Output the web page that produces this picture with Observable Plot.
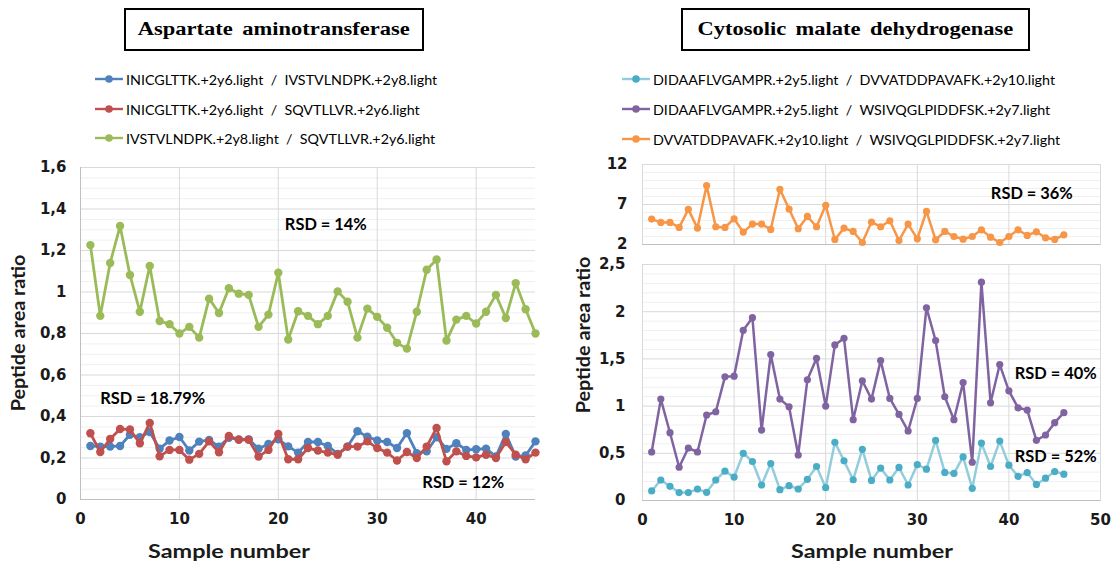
<!DOCTYPE html>
<html><head><meta charset="utf-8">
<script src="https://cdn.jsdelivr.net/npm/d3@7"></script>
<script src="https://cdn.jsdelivr.net/npm/@observablehq/plot@0.6"></script>
<style>
html,body{margin:0;padding:0;background:#fff}
body{width:1115px;height:563px;position:relative;overflow:hidden;font-family:Lato,"Open Sans",sans-serif}
.panel{position:absolute}
.title{position:absolute;border:2px solid #000;box-sizing:border-box;font-family:"Liberation Serif","Times New Roman",serif;font-weight:bold;font-size:18px;display:flex;align-items:center;justify-content:center;word-spacing:3px;color:#000}
.title span{display:inline-block;transform:scaleX(1.25);white-space:nowrap}
.leg{position:absolute;font-size:14.3px;color:#000;white-space:pre;display:flex;align-items:center;height:20px}
.leg svg{margin-right:3px}
.axt{position:absolute;font-weight:bold;font-size:18px;color:#1a1a1a;white-space:nowrap}
.rot{transform:translate(-50%,-50%) rotate(-90deg) scaleX(1.1)}
.hc{transform:translate(-50%,-50%) scaleX(1.3)}
</style>
</head><body>
<div class="title" style="left:124px;top:8px;width:300px;height:43px"><span>Aspartate aminotransferase</span></div>
<div class="title" style="left:681px;top:8px;width:349px;height:43px"><span>Cytosolic malate dehydrogenase</span></div>
<div id="legL"></div><div id="legR"></div>
<div id="pL" class="panel" style="left:0;top:150px"></div>
<div id="pRT" class="panel" style="left:560px;top:150px"></div>
<div id="pRB" class="panel" style="left:560px;top:255px"></div>
<div class="axt rot" style="left:18px;top:333px">Peptide area ratio</div>
<div class="axt rot" style="left:583px;top:335px">Peptide area ratio</div>
<div class="axt hc" style="left:229px;top:551px">Sample number</div>
<div class="axt hc" style="left:872px;top:551px">Sample number</div>
<script>
// ---- data ----
const samples = [1,2,3,4,5,6,7,8,9,10,11,12,13,14,15,16,17,18,19,20,21,22,23,24,25,26,27,28,29,30,31,32,33,34,35,36,37,38,39,40,41,42,43,44,45,46];

const astNames = [
  "INICGLTTK.+2y6.light  /  IVSTVLNDPK.+2y8.light",
  "INICGLTTK.+2y6.light  /  SQVTLLVR.+2y6.light",
  "IVSTVLNDPK.+2y8.light  /  SQVTLLVR.+2y6.light"
];
const astColors = ["#4F81BD", "#C0504D", "#9BBB59"];
const astBlue = [0.258,0.255,0.255,0.258,0.312,0.300,0.325,0.245,0.284,0.301,0.236,0.279,0.287,0.255,0.297,0.290,0.290,0.245,0.268,0.290,0.256,0.226,0.277,0.277,0.258,0.220,0.255,0.329,0.303,0.284,0.277,0.248,0.320,0.223,0.232,0.300,0.244,0.271,0.239,0.242,0.245,0.207,0.316,0.207,0.212,0.280];
const astRed = [0.319,0.229,0.292,0.340,0.337,0.271,0.369,0.208,0.239,0.239,0.192,0.220,0.280,0.228,0.306,0.288,0.288,0.207,0.239,0.316,0.194,0.194,0.248,0.236,0.226,0.216,0.255,0.255,0.280,0.248,0.226,0.188,0.229,0.200,0.255,0.345,0.184,0.232,0.210,0.203,0.216,0.200,0.277,0.216,0.194,0.226];
const astGreen = [1.226,0.885,1.140,1.318,1.082,0.905,1.125,0.860,0.845,0.800,0.832,0.780,0.968,0.899,1.018,0.992,0.986,0.832,0.891,1.093,0.771,0.907,0.885,0.845,0.885,1.003,0.953,0.780,0.920,0.880,0.828,0.755,0.727,0.905,1.107,1.157,0.766,0.867,0.885,0.848,0.905,0.986,0.875,1.043,0.917,0.800];

const mdhNames = [
  "DIDAAFLVGAMPR.+2y5.light  /  DVVATDDPAVAFK.+2y10.light",
  "DIDAAFLVGAMPR.+2y5.light  /  WSIVQGLPIDDFSK.+2y7.light",
  "DVVATDDPAVAFK.+2y10.light  /  WSIVQGLPIDDFSK.+2y7.light"
];
const mdhLineColors = ["#93CDDD", "#8064A2", "#F79646"];
const mdhDotColors = ["#4BACC6", "#8064A2", "#F79646"];
const mdhCyan = [0.101,0.217,0.150,0.084,0.084,0.122,0.087,0.217,0.311,0.248,0.500,0.413,0.164,0.392,0.115,0.157,0.122,0.224,0.360,0.136,0.617,0.420,0.220,0.542,0.213,0.343,0.217,0.350,0.164,0.381,0.332,0.636,0.297,0.287,0.462,0.129,0.608,0.360,0.629,0.374,0.256,0.296,0.170,0.236,0.307,0.279];
const mdhPurple = [0.514,1.074,0.718,0.352,0.556,0.514,0.905,0.940,1.310,1.317,1.803,1.937,0.746,1.546,1.074,0.993,0.482,1.278,1.507,1.000,1.648,1.718,0.856,1.268,1.074,1.482,1.081,0.912,0.736,1.081,2.042,1.694,1.099,0.856,1.250,0.405,2.313,1.035,1.440,1.162,0.982,0.958,0.637,0.694,0.824,0.930];
const mdhOrange = [5.18,4.76,4.76,4.13,6.39,4.05,9.36,4.22,4.13,5.22,3.55,4.55,4.55,3.88,8.90,6.44,3.97,5.51,4.22,6.90,2.63,4.05,3.63,2.25,4.80,4.22,4.97,2.50,4.55,2.71,6.14,2.59,3.63,3.00,2.67,3.00,3.84,2.92,2.25,3.00,3.84,3.13,3.59,2.84,2.63,3.21];

// tick values
const leftXTicks = [0,10,20,30,40];
const leftYTicks = [0,0.2,0.4,0.6,0.8,1,1.2,1.4,1.6];
const leftYMinor = [0.05,0.1,0.15,0.25,0.3,0.35,0.45,0.5,0.55,0.65,0.7,0.75,0.85,0.9,0.95,1.05,1.1,1.15,1.25,1.3,1.35,1.45,1.5,1.55];
const rightXTicks = [0,10,20,30,40,50];
const topYTicks = [2,7,12];
const topYMinor = [3,4,5,6,8,9,10,11];
const botYTicks = [0,0.5,1,1.5,2,2.5];
const botYMinor = [0.1,0.2,0.3,0.4,0.6,0.7,0.8,0.9,1.1,1.2,1.3,1.4,1.6,1.7,1.8,1.9,2.1,2.2,2.3,2.4];

// annotations
const leftNotes = [
  {x: 24.8, y: 1.325, label: "RSD = 14%"},
  {x: 7.3, y: 0.487, label: "RSD = 18.79%"},
  {x: 38.7, y: 0.082, label: "RSD = 12%"}
];
const topNotes = [{x: 42.5, y: 8.3, label: "RSD = 36%"}];
const botNotes = [
  {x: 45.1, y: 1.346, label: "RSD = 40%"},
  {x: 45.1, y: 0.46, label: "RSD = 52%"}
];

// ---- helpers ----
const commaFmt = d => String(d).replace(".", ",");
const rows = vals => samples.map((s, i) => ({sample: s, value: vals[i]}));
const gridCol = "#d9d9d9", minorCol = "#f0f0f0", axisCol = "#bfbfbf";
const tickFont = {fontFamily: "'DejaVu Sans', sans-serif", fontSize: 15, fontWeight: "bold", tickSize: 0, label: null};
const baseStyle = {fontFamily: "Lato, 'Open Sans', sans-serif", fontSize: "16px", fontWeight: "bold", color: "#1a1a1a", background: "transparent", overflow: "visible"};
const noteMark = notes => Plot.text(notes, {x: "x", y: "y", text: "label", fontSize: 16.4, fontWeight: "bold", fill: "#000"});
const seriesMarks = (vals, lineColor, dotColor, r, sw) => [
  Plot.line(rows(vals), {x: "sample", y: "value", stroke: lineColor, strokeWidth: sw}),
  Plot.dot(rows(vals), {x: "sample", y: "value", r: r, fill: dotColor, stroke: "none"})
];

// ---- left chart ----
const left = Plot.plot({
  width: 560, height: 413,
  marginLeft: 80, marginRight: 25, marginTop: 17, marginBottom: 64,
  x: {domain: [0, 46]},
  y: {domain: [0, 1.6]},
  style: baseStyle,
  marks: [
    Plot.gridY(leftYMinor, {stroke: minorCol, strokeOpacity: 1}),
    Plot.gridY(leftYTicks, {stroke: gridCol, strokeOpacity: 1}),
    Plot.gridX(leftXTicks, {stroke: gridCol, strokeOpacity: 1}),
    Plot.ruleY([0], {stroke: axisCol}),
    Plot.ruleX([0], {stroke: axisCol}),
    Plot.axisX(leftXTicks, {...tickFont, tickPadding: 14}),
    Plot.axisY(leftYTicks, {...tickFont, tickPadding: 14, tickFormat: commaFmt}),
    ...seriesMarks(astBlue, astColors[0], astColors[0], 4.2, 2.8),
    ...seriesMarks(astRed, astColors[1], astColors[1], 4.2, 2.8),
    ...seriesMarks(astGreen, astColors[2], astColors[2], 4.2, 2.8),
    noteMark(leftNotes)
  ]
});
document.getElementById("pL").append(left);

// ---- right top ----
const rtop = Plot.plot({
  width: 555, height: 110,
  marginLeft: 82, marginRight: 15, marginTop: 14, marginBottom: 16,
  x: {domain: [0, 50], axis: null},
  y: {domain: [2, 12], axis: null},
  style: baseStyle,
  marks: [
    Plot.gridY(topYMinor, {stroke: minorCol, strokeOpacity: 1}),
    Plot.gridY(topYTicks, {stroke: gridCol, strokeOpacity: 1}),
    Plot.gridX(rightXTicks, {stroke: gridCol, strokeOpacity: 1}),
    Plot.frame({stroke: gridCol}),
    Plot.ruleY([2], {stroke: axisCol}),
    Plot.axisY(topYTicks, {...tickFont, tickPadding: 15}),
    ...seriesMarks(mdhOrange, mdhLineColors[2], mdhDotColors[2], 3.6, 2.5),
    noteMark(topNotes)
  ]
});
document.getElementById("pRT").append(rtop);

// ---- right bottom ----
const rbot = Plot.plot({
  width: 555, height: 308,
  marginLeft: 82, marginRight: 15, marginTop: 9, marginBottom: 63,
  x: {domain: [0, 50]},
  y: {domain: [0, 2.5]},
  style: baseStyle,
  marks: [
    Plot.gridY(botYMinor, {stroke: minorCol, strokeOpacity: 1}),
    Plot.gridY(botYTicks, {stroke: gridCol, strokeOpacity: 1}),
    Plot.gridX(rightXTicks, {stroke: gridCol, strokeOpacity: 1}),
    Plot.frame({stroke: gridCol}),
    Plot.ruleY([0], {stroke: axisCol}),
    Plot.axisX(rightXTicks, {...tickFont, tickPadding: 14}),
    Plot.axisY(botYTicks, {...tickFont, tickPadding: 17, tickFormat: commaFmt}),
    ...seriesMarks(mdhCyan, mdhLineColors[0], mdhDotColors[0], 3.6, 2.5),
    ...seriesMarks(mdhPurple, mdhLineColors[1], mdhDotColors[1], 3.6, 2.5),
    noteMark(botNotes)
  ]
});
document.getElementById("pRB").append(rbot);

// ---- legends ----
function legend(containerId, names, lineCols, dotCols, x, ys) {
  const c = document.getElementById(containerId);
  names.forEach((n, i) => {
    const d = document.createElement("div");
    d.className = "leg";
    d.style.left = x + "px";
    d.style.top = (ys[i] - 10) + "px";
    d.innerHTML = `<svg width="28" height="10"><line x1="0" y1="5" x2="28" y2="5" stroke="${lineCols[i]}" stroke-width="2.4"/><circle cx="14" cy="5" r="3.8" fill="${dotCols[i]}"/></svg>`;
    d.append(document.createTextNode(n));
    c.append(d);
  });
}
legend("legL", astNames, astColors, astColors, 95, [79, 109, 138]);
legend("legR", mdhNames, mdhLineColors, mdhDotColors, 622, [79, 109, 139]);
</script>
</body></html>
